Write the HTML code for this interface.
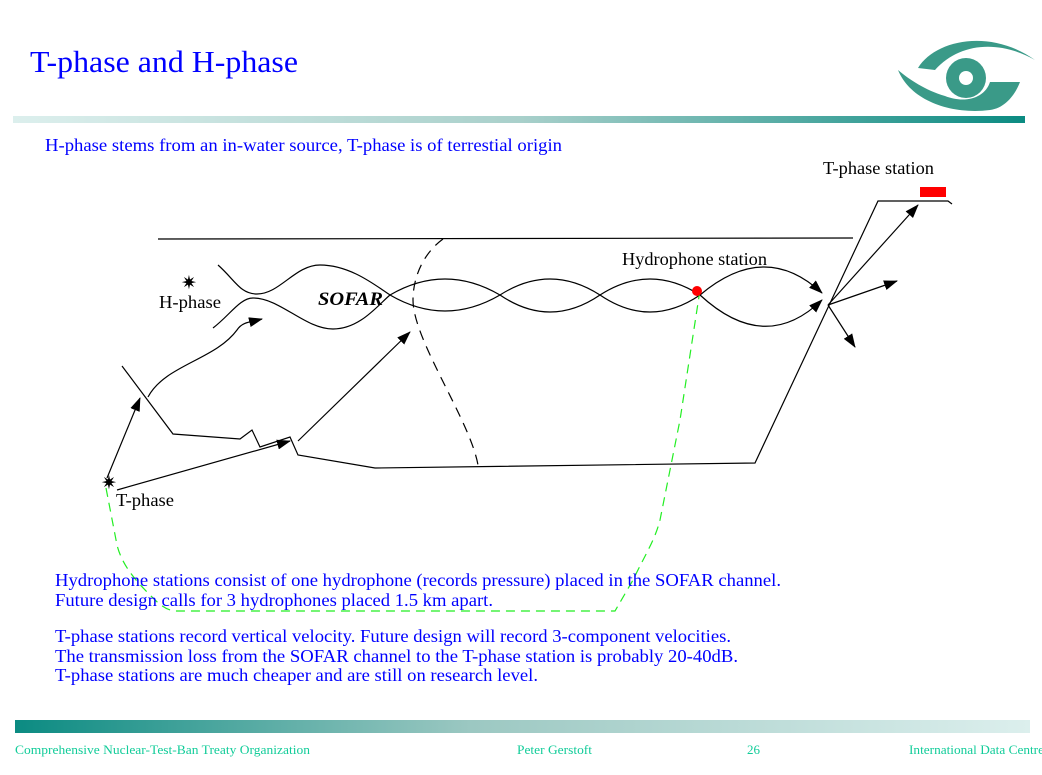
<!DOCTYPE html>
<html><head><meta charset="utf-8"><style>
html,body{margin:0;padding:0;background:#fff;}
body{width:1042px;height:775px;position:relative;overflow:hidden;font-family:"Liberation Serif",serif;}
</style></head><body>
<svg width="1042" height="775" viewBox="0 0 1042 775" xmlns="http://www.w3.org/2000/svg" style="position:absolute;left:0;top:0" font-family="Liberation Serif, serif">
<defs>
<linearGradient id="gt" x1="0" x2="1" y1="0" y2="0"><stop offset="0" stop-color="#dcefed"/><stop offset="0.5" stop-color="#a9d0cb"/><stop offset="1" stop-color="#0b8b82"/></linearGradient>
<linearGradient id="gb" x1="0" x2="1" y1="0" y2="0"><stop offset="0" stop-color="#0b8b82"/><stop offset="0.45" stop-color="#9cc8c2"/><stop offset="1" stop-color="#dcefed"/></linearGradient>
<marker id="ah" markerWidth="14" markerHeight="10" refX="13" refY="5" orient="auto" markerUnits="userSpaceOnUse"><path d="M0,0 L14,5 L0,10 Z" fill="#000"/></marker>
</defs>
<text x="30" y="72" font-size="31" fill="#0000ff" textLength="268" lengthAdjust="spacingAndGlyphs">T-phase and H-phase</text>
<rect x="13" y="116" width="1012" height="7" fill="url(#gt)"/>
<g fill="#3a9a88">
<path d="M918,68 C935,40 990,28 1035,60 C1000,40 960,42 935,70 Z"/>
<path d="M898,70 C910,100 950,115 990,110 C1005,108 1015,95 1020,82 L990,82 C985,98 965,104 945,96 C925,90 910,80 898,70 Z"/>
<circle cx="966" cy="78" r="20"/>
</g>
<circle cx="966" cy="78" r="7" fill="#fff"/>
<text x="45" y="151" font-size="18" fill="#0000ff" textLength="517" lengthAdjust="spacingAndGlyphs">H-phase stems from an in-water source, T-phase is of terrestial origin</text>
<text x="823" y="174" font-size="18" fill="#000" textLength="111" lengthAdjust="spacingAndGlyphs">T-phase station</text>
<rect x="920" y="187" width="26" height="10" fill="#f00"/>
<g fill="none" stroke="#000" stroke-width="1.2">
<line x1="158" y1="239" x2="853" y2="238"/>
<path d="M218,265 C235,280 240,294 257,294 C280,294 295,265 320,265 C350,265 375,285 390,295 Q445,327 500,295 Q550,263 600,295 Q650,329 700,295 Q765,240 822,293" marker-end="url(#ah)"/>
<path d="M213,328 C230,315 240,298 253,298 C280,298 305,329 333,329 C360,329 378,305 390,295 Q445,263 500,295 Q550,329 600,295 Q650,263 700,295 Q765,355 822,300" marker-end="url(#ah)"/>
<path d="M443,239 C425,252 413,275 413,300 C413,340 470,420 478,465" stroke-dasharray="10,7"/>
<path d="M122,366 L173,434 L240,439 L252,430 L260,447 L290,437 L298,455 L375,468 L755,463 L878,201 L948,201 L952,204"/>
<line x1="107" y1="478" x2="140" y2="398" marker-end="url(#ah)"/>
<path d="M148,397 C165,365 215,360 237,330 C242,322 250,322 262,319" marker-end="url(#ah)"/>
<line x1="117" y1="490" x2="290" y2="441" marker-end="url(#ah)"/>
<line x1="298" y1="441" x2="410" y2="332" marker-end="url(#ah)"/>
<line x1="828" y1="305" x2="918" y2="205" marker-end="url(#ah)"/>
<line x1="828" y1="305" x2="897" y2="281" marker-end="url(#ah)"/>
<line x1="828" y1="305" x2="855" y2="347" marker-end="url(#ah)"/>
</g>
<path d="M106,488 L117,545 C122,565 135,580 150,595 C158,603 165,610 175,611 L615,611 L633,580 C645,555 655,540 660,520 L680,420 L700,290" fill="none" stroke="#22ee22" stroke-width="1.2" stroke-dasharray="9,6"/>
<circle cx="697" cy="291" r="5" fill="#f00"/>
<text x="181" y="289" font-size="19" fill="#000">✷</text>
<text x="101" y="489" font-size="19" fill="#000">✷</text>
<text x="159" y="308" font-size="18" fill="#000" textLength="62" lengthAdjust="spacingAndGlyphs">H-phase</text>
<text x="116" y="506" font-size="18" fill="#000" textLength="58" lengthAdjust="spacingAndGlyphs">T-phase</text>
<text x="318" y="305" font-size="19" font-weight="bold" font-style="italic" fill="#000" textLength="65" lengthAdjust="spacingAndGlyphs">SOFAR</text>
<text x="622" y="265" font-size="18" fill="#000" textLength="145" lengthAdjust="spacingAndGlyphs">Hydrophone station</text>
<g font-size="18" fill="#0000ff">
<text x="55" y="586" textLength="726" lengthAdjust="spacingAndGlyphs">Hydrophone stations consist of one hydrophone (records pressure) placed in the SOFAR channel.</text>
<text x="55" y="606" textLength="438" lengthAdjust="spacingAndGlyphs">Future design calls for 3 hydrophones placed 1.5 km apart.</text>
<text x="55" y="642" textLength="676" lengthAdjust="spacingAndGlyphs">T-phase stations record vertical velocity. Future design will record 3-component velocities.</text>
<text x="55" y="662" textLength="683" lengthAdjust="spacingAndGlyphs">The transmission loss from the SOFAR channel to the T-phase station is probably 20-40dB.</text>
<text x="55" y="681" textLength="483" lengthAdjust="spacingAndGlyphs">T-phase stations are much cheaper and are still on research level.</text>
</g>
<rect x="15" y="720" width="1015" height="13" fill="url(#gb)"/>
<g font-size="13" fill="#11cc99">
<text x="15" y="754" textLength="295" lengthAdjust="spacingAndGlyphs">Comprehensive Nuclear-Test-Ban Treaty  Organization</text>
<text x="517" y="754" textLength="75" lengthAdjust="spacingAndGlyphs">Peter Gerstoft</text>
<text x="747" y="754">26</text>
<text x="909" y="754" textLength="135" lengthAdjust="spacingAndGlyphs">International Data Centre</text>
</g>
</svg>
</body></html>
